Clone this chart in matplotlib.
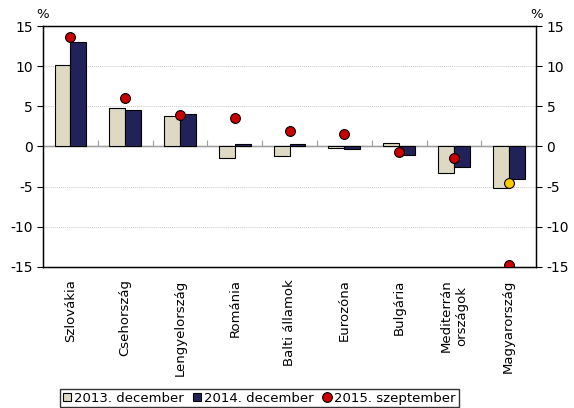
import numpy as np
import matplotlib.pyplot as plt
from matplotlib.lines import Line2D
from matplotlib.patches import Patch

plt.rcParams['font.family'] = ['DejaVu Sans']
plt.rcParams['axes.unicode_minus'] = False

countries = ['Szlovákia', 'Csehország', 'Lengyelország', 'Románia', 'Balti államok',
             'Eurozóna', 'Bulgária', 'Mediterrán\nországok', 'Magyarország']
dec2013 = [10.2, 4.8, 3.8, -1.4, -1.2, -0.15, 0.4, -3.3, -5.2]
dec2014 = [13.0, 4.5, 4.1, 0.3, 0.3, -0.3, -1.1, -2.5, -4.1]
sep2015 = [13.6, 6.0, 3.9, 3.6, 1.9, 1.6, -0.75, -1.45, -14.75]
extra_x = [8]
extra_y = [-4.5]

light = '#DDD9C3'
dark = '#22225A'
red = '#CC0000'
yellow = '#FFCC00'
fs = 9.5

fig = plt.figure(figsize=(5.74, 4.08), dpi=100)
ax = fig.add_axes([0.075, 0.346, 0.859, 0.59])

x = np.arange(len(countries))
w = 0.29
ax.bar(x - w / 2, dec2013, w, color=light, edgecolor='black', linewidth=0.8, zorder=3)
ax.bar(x + w / 2, dec2014, w, color=dark, edgecolor='black', linewidth=0.8, zorder=3)
ax.scatter(x, sep2015, s=50, color=red, edgecolor='black', linewidth=0.8, zorder=5)
ax.scatter(extra_x, extra_y, s=50, color=yellow, edgecolor='black', linewidth=0.8, zorder=5)

ax.set_xlim(-0.5, len(countries) - 0.5)
ax.set_ylim(-15, 15)
ax.set_yticks(np.arange(-15, 16, 5))
for v in [-10, -5, 5, 10]:
    ax.axhline(v, color='#C8C8C8', lw=0.7, ls=(0, (1, 1)), zorder=1)
ax.axhline(0, color='#A0A0A0', lw=1.0, zorder=2)

ax.set_xticks(x)
ax.set_xticklabels(countries, rotation=90, fontsize=fs, linespacing=1.25)
ax.tick_params(axis='x', length=0, pad=9)
ax.tick_params(axis='y', labelsize=fs + 0.5, length=4, direction='out')
for s in ax.spines.values():
    s.set_linewidth(1.0)

# category separators on the zero line
sec = ax.secondary_xaxis(0.5)
sec.set_xticks(np.arange(0.5, len(countries) - 1, 1))
sec.set_xticklabels([])
sec.tick_params(length=4, color='#A0A0A0', direction='out')
sec.spines['bottom'].set_visible(False)

ay = ax.twinx()
ay.set_ylim(-15, 15)
ay.set_yticks(np.arange(-15, 16, 5))
ay.tick_params(axis='y', labelsize=fs + 0.5, length=4, direction='out')

ax.text(0.0, 1.02, '%', transform=ax.transAxes, ha='center', va='bottom', fontsize=fs)
ax.text(1.0, 1.02, '%', transform=ax.transAxes, ha='center', va='bottom', fontsize=fs)

handles = [
    Patch(facecolor=light, edgecolor='black', linewidth=0.8, label='2013. december'),
    Patch(facecolor=dark, edgecolor='black', linewidth=0.8, label='2014. december'),
    Line2D([], [], marker='o', ls='none', markersize=7, markerfacecolor=red,
           markeredgecolor='black', markeredgewidth=0.8, label='2015. szeptember'),
]
leg = fig.legend(handles=handles, loc='lower center', bbox_to_anchor=(0.452, -0.005), ncol=3,
                 fontsize=fs, frameon=True, fancybox=False, edgecolor='black',
                 handlelength=0.6, handleheight=0.6, handletextpad=0.25, columnspacing=0.7,
                 borderpad=0.2, borderaxespad=0.2)
leg.get_frame().set_linewidth(1.0)

fig.savefig('out.png', dpi=100)
